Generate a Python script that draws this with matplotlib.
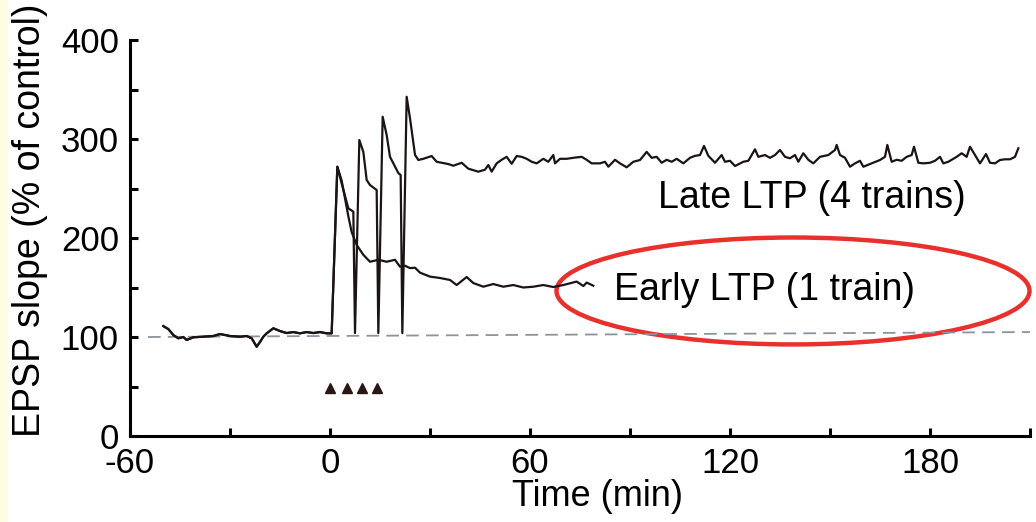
import matplotlib
matplotlib.use("Agg")
import matplotlib.pyplot as plt
from matplotlib.patches import Ellipse, Rectangle
from matplotlib.ticker import MultipleLocator

plt.rcParams['font.family'] = ['Liberation Sans', 'DejaVu Sans']
plt.rcParams['axes.unicode_minus'] = False

# ベースライン（刺激前、両トレース共通）
base_t = [-50, -48.5, -47, -45.5, -44, -43, -41, -38, -35, -33, -30, -27, -25,
          -23.5, -22, -21, -20, -19, -17, -15, -13, -11, -9, -7, -5, -3, -1, 0.5]
base_v = [111, 108, 102, 98.7, 100, 97, 99.7, 100.3, 101, 103, 101, 100.3, 101,
          98.7, 90.2, 95, 100.3, 103.7, 108.8, 106, 104, 105, 103.7, 105, 104, 105,
          103.7, 103.7]

# Early LTP (1 train)
early_t = [2.2, 3.5, 4.5, 5.5, 6.5, 8, 10, 12, 14.5, 17, 19.5, 21, 22.5, 24, 25.5,
           27, 30, 33, 36, 38, 41, 43, 46, 49, 52, 55, 58, 61, 64, 67, 70, 74, 76,
           77, 79]
early_v = [272, 258, 240, 222, 206, 193, 183, 176, 178, 176, 178, 171, 172, 169.6,
           170, 165, 161, 159.6, 157.6, 152.5, 160.6, 154.5, 150.8, 153.5, 150.8,
           152.5, 150, 150.8, 152.5, 150.5, 152.5, 156, 151.5, 155, 151.8]

# Late LTP (4 trains)
late_t = [2.2, 3.5, 5.5, 7.0, 7.5, 8.8, 10, 11, 12, 14, 14.5, 15.8, 17, 18, 20.5,
          21.2, 21.7, 23, 24, 25.5,
          26.5, 28, 30.5, 32, 33.5, 35.5, 37, 39.5, 41.5, 44.5, 46.5, 47.5, 48.5,
          50, 51.5, 53, 54.5, 56, 57.5, 59, 60.5, 62, 64, 65.5, 67, 67.5, 69, 71,
          73, 75.5, 77, 78.5, 81, 82.5, 83.5, 85.5, 87, 89, 91, 93, 95, 96.5, 98,
          99.5, 101, 102.5, 104, 106, 108, 109.5, 111, 112.2, 113.5, 115.5, 117.5,
          118.5, 120, 121.5, 124, 125.5, 127.5, 128.5, 130.5, 132, 133.5, 135,
          136.5, 138, 139.5, 140.5, 142, 143.5, 145, 147, 149.5, 151.5, 152, 153,
          154.5, 156, 157.5, 159, 160, 162, 165, 166.5, 167.2, 168.5, 170, 171.5,
          173, 174.5, 175.2, 176.5, 178, 180, 181.5, 183, 184, 185.5, 188, 189.5,
          191, 192, 193.5, 195, 196.8, 198, 199.5, 201, 202.5, 204, 205.5, 206.5]
late_v = [272, 255, 230, 226.6, 104, 299, 287, 258.6, 253.5, 248.5, 104, 322.5,
          304, 282, 265.6, 263.6, 104, 342.7, 321, 284,
          278.8, 280, 282.8, 277, 276, 274.7, 273, 276, 270, 267, 269, 273.7, 267,
          275.4, 279, 282, 275, 282.8, 282, 280, 277, 275.4, 280, 277, 283.8, 275.4,
          280, 280, 281, 282, 279, 275.4, 275.4, 277, 272, 279, 275.4, 271.4, 277,
          278.8, 287, 281, 282, 276, 279, 277, 280, 275.4, 281, 283, 283.8, 293,
          283, 276, 283.8, 277, 278, 272.7, 277, 278, 289.6, 282, 283.8, 281,
          283.8, 288.9, 282, 280.5, 283.8, 277, 285.6, 279, 275.4, 282, 283.8,
          288.9, 294, 283.8, 281, 272, 275.4, 278, 272, 274.7, 278.8, 282, 294,
          277, 279, 278, 282, 283.8, 292.2, 276, 275.4, 276, 278, 282, 275.4, 277,
          282, 285.6, 282, 292.2, 283.8, 275.4, 284.8, 276, 275.4, 278.8, 279.5,
          279.5, 282, 290.6]

# 基準線（100%）と刺激マーカー
ref_t = [-54.6, 210]
ref_v = [100, 105]
train_t = [0, 5, 9.6, 14.2]
train_v = [48, 48, 48, 48]


def main():
    fig = plt.figure(figsize=(10.36, 5.22), dpi=100)
    fig.patches.append(Rectangle((0, 0), 8 / 1036, 1, transform=fig.transFigure,
                                 facecolor='#fffde0', edgecolor='none'))
    ax = fig.add_axes([130 / 1036, 86 / 522, 900 / 1036, 396 / 522])

    line_col = '#1c1414'
    ax.plot(ref_t, ref_v, color='#8a939e', lw=1.3, dashes=(7, 4), clip_on=False)
    ax.plot(base_t + early_t, base_v + early_v, color=line_col, lw=1.6)
    ax.plot(base_t + late_t, base_v + late_v, color=line_col, lw=1.6, clip_on=False)
    ax.plot(train_t, train_v, linestyle='none', marker='^', markersize=7,
            color='#2a1616')

    ax.text(144.6, 240, 'Late LTP (4 trains)', fontsize=27, ha='center', va='center')
    ax.text(130.5, 147, 'Early LTP (1 train)', fontsize=27, ha='center', va='center')
    ax.add_patch(Ellipse((138.9, 146.5), 141.9, 108, facecolor='none',
                         edgecolor='#e8302c', lw=3.2, clip_on=False))

    ax.set_xlim(-60, 210)
    ax.set_ylim(0, 400)
    ax.xaxis.set_major_locator(MultipleLocator(60))
    ax.xaxis.set_minor_locator(MultipleLocator(30))
    ax.yaxis.set_major_locator(MultipleLocator(100))
    ax.yaxis.set_minor_locator(MultipleLocator(50))
    for s in ['top', 'right']:
        ax.spines[s].set_visible(False)
    for s in ['left', 'bottom']:
        ax.spines[s].set_linewidth(2.2)
    ax.tick_params(which='both', direction='in', length=6, width=2.2)
    ax.tick_params(axis='both', labelsize=25, pad=8)

    ax.set_xlabel('Time (min)', fontsize=26)
    ax.xaxis.set_label_coords(0.519, -0.154)
    ax.xaxis.label.set_va('center')
    ax.set_ylabel('EPSP slope (% of control)', fontsize=27)
    ax.yaxis.set_label_coords(-0.111, 0.545)
    ax.yaxis.label.set_va('center')

    fig.savefig('out.png', dpi=100)


if __name__ == "__main__":
    main()
